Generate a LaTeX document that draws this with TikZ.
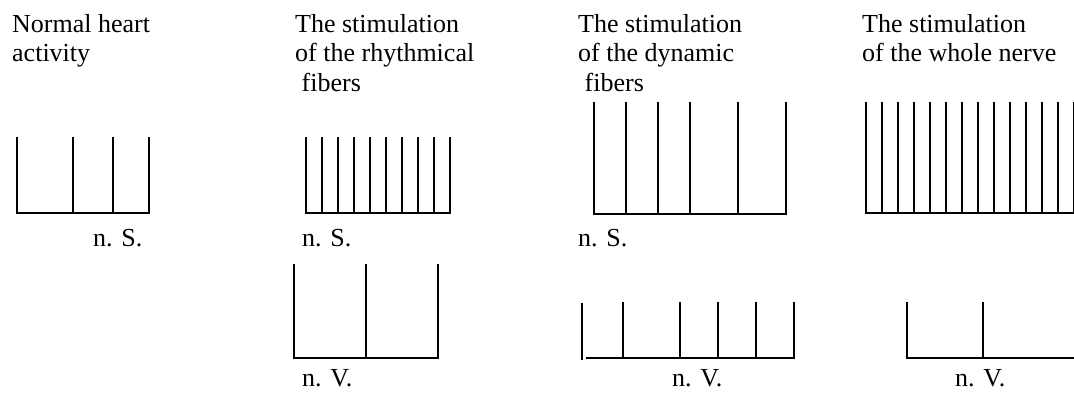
\documentclass[tikz,border=0pt]{standalone}
\usepackage{fontspec}
\setmainfont{Liberation Serif}
\begin{document}
\begin{tikzpicture}[
  x=1pt, y=-1pt,
  title/.style={anchor=north west, inner sep=0pt, align=left, font=\fontsize{26}{29.5}\selectfont},
  label/.style={anchor=base west, inner sep=0pt, font=\fontsize{26}{29.5}\selectfont},
  trace/.style={line width=2.6pt}
]
\useasboundingbox (0,0) rectangle (1074,392);
% titles
\node[title] (t1) at (12,14) {Normal heart\\activity};
\node[title] (t2) at (295,14) {The stimulation\\of the rhythmical\\\ fibers};
\node[title] (t3) at (578,14) {The stimulation\\of the dynamic\\\ fibers};
\node[title] (t4) at (862,14) {The stimulation\\of the whole nerve};
% normal activity
\draw[trace] (17,213) -- (149,213);
\foreach \x in {17,73,113,149} \draw[trace] (\x,137) -- (\x,214);
\node[label] (ns1) at (93,246) {n. S.};
% rhythmical fibers
\draw[trace] (306,213) -- (450,213);
\foreach \k in {0,...,9} \draw[trace] (306+16*\k,137) -- (306+16*\k,214);
\node[label] (ns2) at (302,246) {n. S.};
\draw[trace] (294,358) -- (438,358);
\foreach \x in {294,366,438} \draw[trace] (\x,264) -- (\x,359);
\node[label] (nv2) at (302,386) {n. V.};
% dynamic fibers
\draw[trace] (594,214) -- (786,214);
\foreach \x in {594,626,658,690,738,786} \draw[trace] (\x,102) -- (\x,215);
\node[label] (ns3) at (578,246) {n. S.};
\draw[trace] (582,303) -- (582,360);
\draw[trace] (586,358) -- (794,358);
\foreach \x in {623,680,718,756,794} \draw[trace] (\x,302) -- (\x,359);
\node[label] (nv3) at (672,386) {n. V.};
% whole nerve
\draw[trace] (866,213) -- (1074,213);
\foreach \k in {0,...,13} \draw[trace] (866+16*\k,102) -- (866+16*\k,214);
\draw[trace] (907,358) -- (1074,358);
\foreach \x in {907,983} \draw[trace] (\x,302) -- (\x,359);
\node[label] (nv4) at (955,386) {n. V.};
\end{tikzpicture}
\end{document}
